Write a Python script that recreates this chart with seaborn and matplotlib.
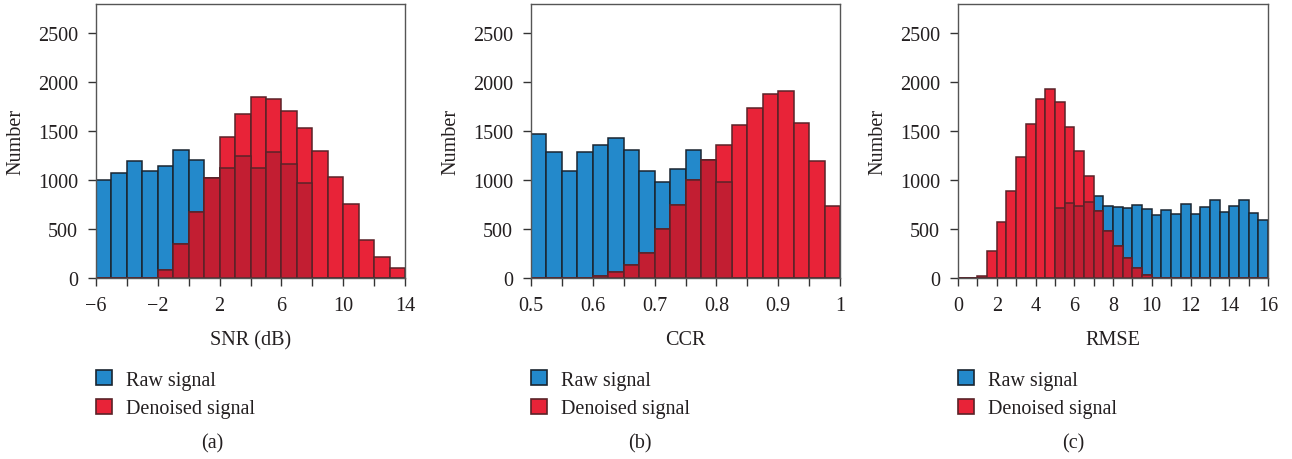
import numpy as np
import pandas as pd
import matplotlib
matplotlib.use("Agg")
import matplotlib.pyplot as plt
from matplotlib.patches import Patch
import seaborn as sns

# ---------------- data ----------------
# (a) SNR (dB), bins of width 1 from -6 to 14
snr_edges = np.arange(-6, 15, 1.0)
snr_raw = [1000, 1077, 1196, 1091, 1142, 1304, 1209, 1020, 1128, 1247,
           1128, 1287, 1169, 972, 0, 0, 0, 0, 0, 0]
snr_den = [0, 0, 0, 0, 78, 346, 671, 1023, 1436, 1680,
           1850, 1826, 1711, 1535, 1294, 1030, 752, 390, 213, 102]

# (b) CCR, bins of width 0.025 from 0.5 to 1
ccr_edges = np.linspace(0.5, 1.0, 21)
ccr_raw = [1467, 1287, 1091, 1284, 1362, 1430, 1308, 1098, 986, 1114,
           1311, 1203, 979, 0, 0, 0, 0, 0, 0, 0]
ccr_den = [0, 0, 0, 0, 24, 61, 132, 257, 501, 749,
           1006, 1205, 1362, 1565, 1734, 1880, 1911, 1579, 1192, 735]

# (c) RMSE, bins of width 0.5 from 0 to 16
rmse_edges = np.arange(0, 16.5, 0.5)
rmse_raw = [0, 0, 0, 0, 0, 0, 0, 0, 0, 0,
            715, 762, 735, 772, 833, 732, 722, 711, 749, 701,
            647, 698, 654, 755, 654, 725, 796, 674, 732, 799, 664, 589]
rmse_den = [0, 0, 24, 274, 576, 888, 1240, 1572, 1833, 1927,
            1799, 1548, 1297, 1040, 688, 478, 329, 207, 98, 30,
            0, 0, 0, 0, 0, 0, 0, 0, 0, 0, 0, 0]

xlabels = ["SNR (dB)", "CCR", "RMSE"]
panel_tags = ["(a)", "(b)", "(c)"]
legend_labels = ["Raw signal", "Denoised signal"]

# ---------------- style ----------------
sns.set_theme(style="ticks")
plt.rcParams["font.family"] = ["Liberation Serif", "DejaVu Serif"]
plt.rcParams["axes.unicode_minus"] = True

BLUE = "#2389CB"
RED = "#E82338"
DARK = "#C21E32"
BLUE_EDGE = "#1A2530"
RED_EDGE = "#5A2228"
SPINE = "#555555"
FS = 14.5

W, H = 1292, 460
fig = plt.figure(figsize=(W / 100, H / 100), dpi=100)

# axes boxes in pixels: left, right
boxes = [(96, 405), (531, 840), (958, 1268)]
top_px, bot_px = 5, 279

datasets = [
    (snr_edges, snr_raw, snr_den),
    (ccr_edges, ccr_raw, ccr_den),
    (rmse_edges, rmse_raw, rmse_den),
]

tag_x = [212, 640, 1073]

for i, ((edges, raw, den), (l, r)) in enumerate(zip(datasets, boxes)):
    ax = fig.add_axes([l / W, (H - bot_px) / H, (r - l) / W, (bot_px - top_px) / H])
    edges = np.asarray(edges, float)
    centers = (edges[:-1] + edges[1:]) / 2
    raw = np.asarray(raw, float)
    den = np.asarray(den, float)
    df = pd.DataFrame({"x": centers, "raw": raw, "den": den,
                       "both": np.minimum(raw, den)})

    sns.histplot(data=df, x="x", weights="raw", bins=list(edges), color=BLUE,
                 alpha=1, edgecolor=BLUE_EDGE, linewidth=1.1, ax=ax)
    sns.histplot(data=df, x="x", weights="den", bins=list(edges), color=RED,
                 alpha=1, edgecolor=RED_EDGE, linewidth=1.1, ax=ax)
    sns.histplot(data=df, x="x", weights="both", bins=list(edges), color=DARK,
                 alpha=1, edgecolor=RED_EDGE, linewidth=1.1, ax=ax)

    ax.set_xlim(edges[0], edges[-1])
    ax.set_ylim(0, 2800)
    ax.set_yticks([0, 500, 1000, 1500, 2000, 2500])

    if i == 0:
        major = [-6, -2, 2, 6, 10, 14]
        minor = [-4, 0, 4, 8, 12]
        ax.set_xticks(major)
        ax.set_xticks(minor, minor=True)
        ax.set_xticklabels(["\u22126", "\u22122", "2", "6", "10", "14"])
    elif i == 1:
        major = [0.5, 0.6, 0.7, 0.8, 0.9, 1.0]
        minor = [0.55, 0.65, 0.75, 0.85, 0.95]
        ax.set_xticks(major)
        ax.set_xticks(minor, minor=True)
        ax.set_xticklabels(["0.5", "0.6", "0.7", "0.8", "0.9", "1"])
    else:
        major = list(range(0, 17, 2))
        minor = list(range(1, 16, 2))
        ax.set_xticks(major)
        ax.set_xticks(minor, minor=True)

    ax.tick_params(axis="both", which="both", direction="out", length=6,
                   width=1, color="#333333", labelsize=FS, pad=7,
                   labelcolor="#231f20")
    for s in ax.spines.values():
        s.set_color(SPINE)
        s.set_linewidth(1.0)
        s.set_visible(True)

    ax.set_xlabel(xlabels[i], fontsize=FS, color="#231f20", labelpad=11)
    ax.set_ylabel("Number", fontsize=FS, color="#231f20", labelpad=9)

    handles = [Patch(facecolor=BLUE, edgecolor=BLUE_EDGE, linewidth=1.2),
               Patch(facecolor=RED, edgecolor=RED_EDGE, linewidth=1.2)]
    fig.legend(handles, legend_labels, loc="upper left",
               bbox_to_anchor=(l / W, 1 - 371 / H), frameon=False,
               fontsize=FS, handlelength=0.78, handleheight=0.78,
               handletextpad=0.7, borderpad=0, borderaxespad=0,
               labelspacing=0.45, labelcolor="#231f20")

    fig.text(tag_x[i] / W, 1 - 444 / H, panel_tags[i], ha="center",
             va="center", fontsize=FS, color="#231f20")

fig.savefig("out.png", dpi=100)
